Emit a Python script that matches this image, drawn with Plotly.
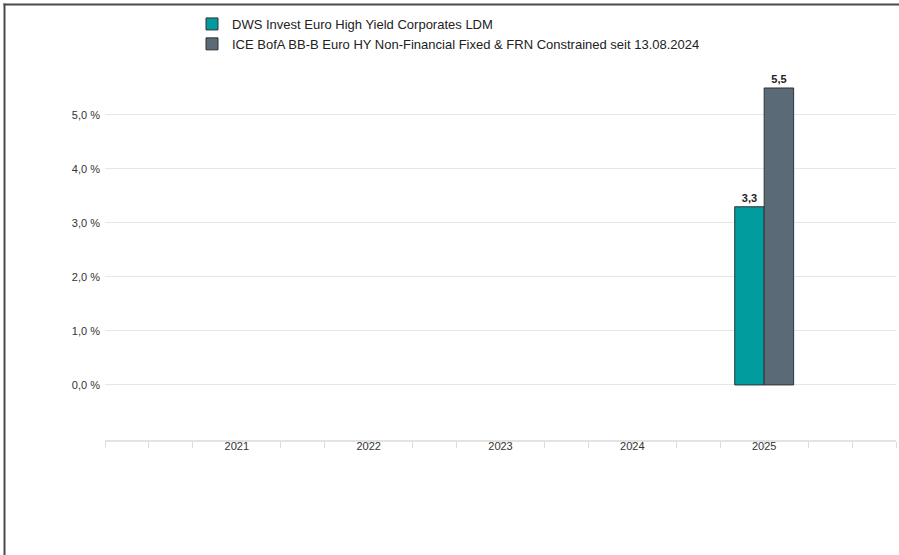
import plotly.graph_objects as go

years = [2021, 2022, 2023, 2024, 2025]
fund_name = "DWS Invest Euro High Yield Corporates LDM"
bench_name = "ICE BofA BB-B Euro HY Non-Financial Fixed & FRN Constrained seit 13.08.2024"
fund_values = [None, None, None, None, 3.3]
bench_values = [None, None, None, None, 5.5]
y_tickvals = [0, 1, 2, 3, 4, 5, 6]
y_ticktext = ["0,0 %", "1,0 %", "2,0 %", "3,0 %", "4,0 %", "5,0 %", ""]
x_ticktext = ["2021", "2022", "2023", "2024", "2025"]

W, H = 899, 555
L, R, T, B = 105, 3, 61, 115
pw, ph = W - L - R, H - T - B

fig = go.Figure()
fig.add_trace(go.Bar(
    x=years, y=fund_values, name=fund_name,
    marker=dict(color="#009C9E", line=dict(color="#333333", width=1)),
    texttemplate="<b>%{y:.1f}</b>", textposition="outside",
    textfont=dict(size=11, color="#222222"), cliponaxis=False,
))
fig.add_trace(go.Bar(
    x=years, y=bench_values, name=bench_name,
    marker=dict(color="#5A6A76", line=dict(color="#333333", width=1)),
    texttemplate="<b>%{y:.1f}</b>", textposition="outside",
    textfont=dict(size=11, color="#222222"), cliponaxis=False,
))

bx = (4.5 - L) / pw          # left border position (paper)
by = 1 + (T - 4.5) / ph      # top border position (paper)

fig.update_layout(
    width=W, height=H,
    margin=dict(l=L, r=R, t=T, b=B, pad=0),
    paper_bgcolor="white", plot_bgcolor="white",
    font=dict(family="Liberation Sans, Arial, sans-serif", size=11, color="#333333"),
    separators=",.",
    barmode="group", bargap=0.553, bargroupgap=0,
    showlegend=True,
    legend=dict(
        x=(192 - L) / pw, xanchor="left",
        y=1 + (T - 9) / ph, yanchor="top",
        font=dict(size=13, color="#222222"),
        bgcolor="rgba(0,0,0,0)", itemclick=False,
    ),
    xaxis=dict(
        range=[2020, 2026], tickvals=years, ticktext=x_ticktext,
        ticks="", showgrid=False, zeroline=False,
        showline=True, linecolor="#e3e3e3", linewidth=2,
        tickfont=dict(size=11, color="#333333"),
        ticklabelstandoff=-5,
        minor=dict(tick0=2020, dtick=1/3, ticks="outside", ticklen=6,
                   tickcolor="#dddddd", tickwidth=1, showgrid=False),
    ),
    yaxis=dict(
        range=[-1.02, 6.0], tickvals=y_tickvals, ticktext=y_ticktext,
        showgrid=True, gridcolor="#e6e6e6", gridwidth=1,
        zeroline=False, showline=False, ticks="",
        tickfont=dict(size=11, color="#333333"),
        ticklabelstandoff=4,
    ),
    shapes=[
        dict(type="line", xref="paper", yref="paper",
             x0=bx, x1=bx, y0=-B / ph - 0.01, y1=by + 1 / ph,
             line=dict(color="#4a4a4a", width=2)),
        dict(type="line", xref="paper", yref="paper",
             x0=bx - 1 / pw, x1=1 + R / pw + 0.01, y0=by, y1=by,
             line=dict(color="#4a4a4a", width=2)),
    ],
)

fig.write_html("out.html", config={"displayModeBar": False},
               post_script="document.body.style.margin='0';")
